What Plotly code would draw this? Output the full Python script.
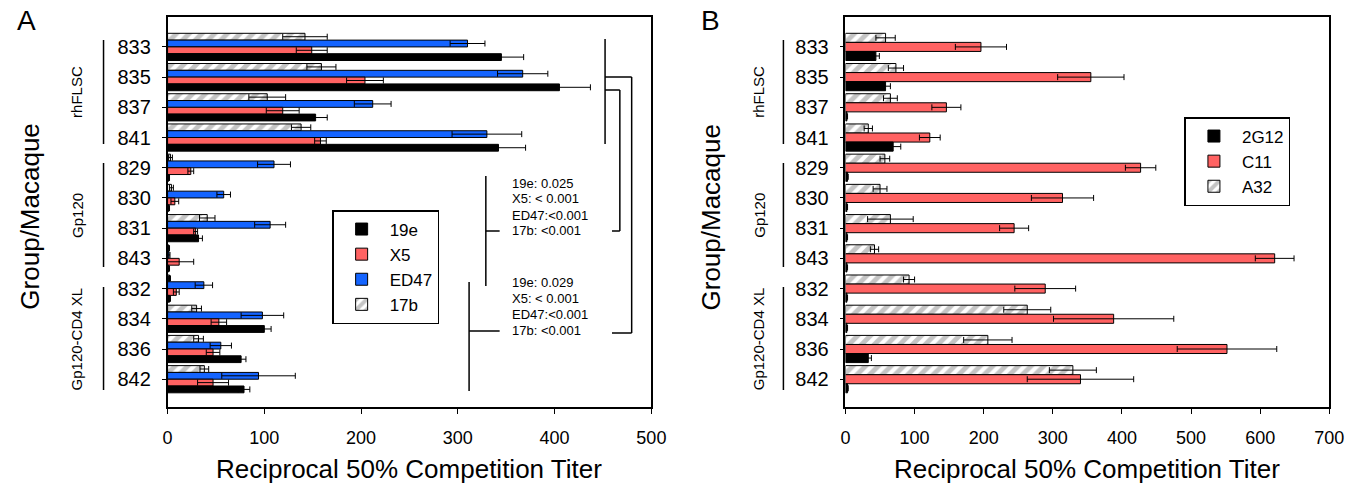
import plotly.graph_objects as go

W, H = 1363, 489

# ---------------- data ----------------
macaques = ["833", "835", "837", "841", "829", "830", "831", "843", "832", "834", "836", "842"]
groups = ["rhFLSC", "Gp120", "Gp120-CD4 XL"]

# Panel A
a_19e = [345, 405, 153, 342, 1, 1, 32, 1, 2, 100, 76, 79]
a_19e_err = [23, 32, 12, 28, 1, 1, 4, 1, 1, 7, 5, 6]
a_x5 = [149, 204, 119, 158, 24, 7.5, 29, 12, 9, 53, 47, 47]
a_x5_err = [16, 19, 17, 6, 3, 4, 2, 15, 3, 8, 7, 16]
a_ed47 = [310, 367, 212, 330, 110, 58, 106, 1.5, 37.5, 98, 55, 94]
a_ed47_err = [18, 26, 19, 36, 17, 7, 16, 1, 9, 22, 11, 38]
a_17b = [142, 159, 103, 138, 3, 4, 41, 1, 2, 30, 32, 38]
a_17b_err = [23, 15, 19, 10, 2, 2, 8, 1, 1, 5, 5, 4.5]

# Panel B
b_2g12 = [44, 58, 2, 69, 3, 2, 2, 2, 2, 2, 33, 3]
b_2g12_err = [5, 7, 1, 11, 1, 1, 1, 1, 1, 1, 4.5, 1]
b_c11 = [196, 355, 146, 122, 427, 314, 244, 621, 289, 388, 552, 340]
b_c11_err = [37, 48, 21, 15, 22, 45, 21, 28, 44, 87, 72, 77]
b_a32 = [58, 73, 65, 33, 57, 50, 65, 42, 92, 263, 206, 329]
b_a32_err = [14, 11, 10, 6, 7, 10, 33, 6, 8, 34, 35, 34]

pvals_1 = ["19e: 0.025", "X5: < 0.001", "ED47:<0.001", "17b: <0.001"]
pvals_2 = ["19e: 0.029", "X5: < 0.001", "ED47:<0.001", "17b: <0.001"]

# ---------------- styles ----------------
FONT = "Liberation Sans, Arial, Helvetica, sans-serif"
BLACK = "#000000"
RED = "#ff6262"
BLUE = "#1464ff"
HATCH = dict(shape="/", fgcolor="#8a8a8a", bgcolor="white", size=9, solidity=0.55)


def px(x):
    return x / W


def py(y):
    return 1 - y / H


def bar(name, vals, errs, xaxis, yaxis, legend, color=None, hatch=False):
    marker = dict(line=dict(color="black", width=1))
    if hatch:
        marker["color"] = "white"
        marker["pattern"] = HATCH
    else:
        marker["color"] = color
    return go.Bar(
        name=name, y=macaques, x=vals, orientation="h",
        xaxis=xaxis, yaxis=yaxis, legend=legend, marker=marker,
        error_x=dict(type="data", array=errs, visible=True, color="black",
                     thickness=1, width=3),
    )


fig = go.Figure()
# Panel A (top-to-bottom within group: 17b, ED47, X5, 19e)
fig.add_trace(bar("17b", a_17b, a_17b_err, "x", "y", "legend", hatch=True))
fig.add_trace(bar("ED47", a_ed47, a_ed47_err, "x", "y", "legend", color=BLUE))
fig.add_trace(bar("X5", a_x5, a_x5_err, "x", "y", "legend", color=RED))
fig.add_trace(bar("19e", a_19e, a_19e_err, "x", "y", "legend", color=BLACK))
# Panel B (top-to-bottom: A32, C11, 2G12)
fig.add_trace(bar("A32", b_a32, b_a32_err, "x2", "y2", "legend2", hatch=True))
fig.add_trace(bar("C11", b_c11, b_c11_err, "x2", "y2", "legend2", color=RED))
fig.add_trace(bar("2G12", b_2g12, b_2g12_err, "x2", "y2", "legend2", color=BLACK))

ydom = [py(407), py(17)]
axis_common = dict(showline=True, linecolor="black", linewidth=1.5, mirror=True,
                   showgrid=False, zeroline=False, ticks="outside",
                   tickcolor="black", tickfont=dict(size=18, color="black"))
yaxis_common = dict(axis_common, ticklen=4, tickfont=dict(size=20, color="black"),
                    range=[11.92, -0.99], type="category", ticklabelstandoff=7)

fig.update_layout(
    width=W, height=H, autosize=False,
    margin=dict(l=0, r=0, t=0, b=0),
    paper_bgcolor="white", plot_bgcolor="white",
    font=dict(family=FONT, color="black"),
    barmode="group", bargap=0.1, bargroupgap=0,
    showlegend=True,
    xaxis=dict(axis_common, domain=[px(165), px(656)], range=[0, 500],
               tickvals=[0, 100, 200, 300, 400, 500], ticklen=5,
               ticklabelstandoff=9, anchor="y"),
    yaxis=dict(yaxis_common, domain=ydom, anchor="x"),
    xaxis2=dict(axis_common, domain=[px(853), px(1344)], range=[0, 700],
                tickvals=[0, 100, 200, 300, 400, 500, 600, 700], ticklen=5,
                ticklabelstandoff=9, anchor="y2"),
    yaxis2=dict(yaxis_common, domain=ydom, anchor="x2"),
    legend=dict(x=px(332), y=py(210), xanchor="left", yanchor="top",
                bordercolor="black", borderwidth=1.5, bgcolor="white",
                font=dict(size=17), traceorder="reversed", itemwidth=46),
    legend2=dict(x=px(1197), y=py(117), xanchor="left", yanchor="top",
                 bordercolor="black", borderwidth=1.5, bgcolor="white",
                 font=dict(size=17), traceorder="reversed", itemwidth=46),
)

ann = []
shapes = []


def text(x, y, s, size, angle=0, xanchor="center"):
    ann.append(dict(x=px(x), y=py(y), xref="paper", yref="paper", text=s,
                    showarrow=False, font=dict(size=size, color="black", family=FONT),
                    textangle=angle, xanchor=xanchor, yanchor="middle"))


def line(x0, y0, x1, y1, w=1.5):
    shapes.append(dict(type="line", xref="paper", yref="paper",
                       x0=px(x0), y0=py(y0), x1=px(x1), y1=py(y1),
                       line=dict(color="black", width=w)))


# panel letters and titles
text(22, 20, "A", 28)
text(716, 20, "B", 28)
text(410, 469, "Reciprocal 50% Competition Titer", 26)
text(1098, 469, "Reciprocal 50% Competition Titer", 26)
text(25, 217, "Group/Macaque", 26, angle=-90)
text(717, 217, "Group/Macaque", 26, angle=-90)

# group labels with vertical lines
group_spans = [(40, 144), (163, 267), (287, 390)]
for off_label, off_line in [(73, 100), (765, 790)]:
    for g, (y0, y1) in zip(groups, group_spans):
        text(off_label, (y0 + y1) / 2, g, 15, angle=-90)
        line(off_line, y0, off_line, y1)

# significance brackets (panel A)
line(609, 39, 609, 144)
line(609, 77, 636, 77)
line(636, 77, 636, 333)
line(616, 333, 636, 333)
line(609, 90, 624, 90)
line(624, 90, 624, 231)
line(616, 231, 624, 231)
line(488, 176, 488, 286)
line(488, 231, 502, 231)
line(471, 282, 471, 391)
line(471, 331, 502, 331)

for i, s in enumerate(pvals_1):
    text(513, 183 + i * 16, s, 13, xanchor="left")
for i, s in enumerate(pvals_2):
    text(513, 282 + i * 16.3, s, 13, xanchor="left")

fig.update_layout(annotations=ann, shapes=shapes)

post = (
    "document.documentElement.style.overflow='hidden';"
    "document.body.style.overflow='hidden';"
    "document.body.style.margin='0px';"
    "var gd=document.getElementById('{plot_id}');"
    "Plotly.relayout(gd,{width:%d,height:%d});" % (W, H)
)
fig.write_html("out.html", post_script=post,
               config={"displayModeBar": False, "responsive": False})
